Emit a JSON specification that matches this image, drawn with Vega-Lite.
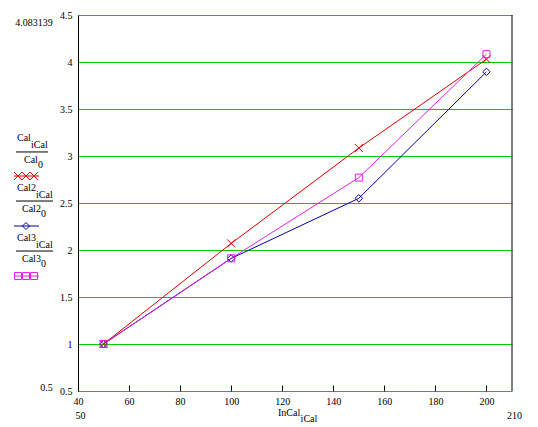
{
  "$schema": "https://vega.github.io/schema/vega-lite/v6.json",
  "width": 434,
  "height": 376,
  "autosize": {"type": "none"},
  "padding": {"left": 78, "top": 15, "right": 26, "bottom": 36},
  "background": "white",
  "datasets": {
    "cal": [
      {"series": "Cal", "InCal": 50, "ratio": 1},
      {"series": "Cal", "InCal": 100, "ratio": 2.07},
      {"series": "Cal", "InCal": 150, "ratio": 3.085},
      {"series": "Cal", "InCal": 200, "ratio": 4.03},
      {"series": "Cal2", "InCal": 50, "ratio": 1},
      {"series": "Cal2", "InCal": 100, "ratio": 1.91},
      {"series": "Cal2", "InCal": 150, "ratio": 2.55},
      {"series": "Cal2", "InCal": 200, "ratio": 3.895},
      {"series": "Cal3", "InCal": 50, "ratio": 1},
      {"series": "Cal3", "InCal": 100, "ratio": 1.912},
      {"series": "Cal3", "InCal": 150, "ratio": 2.77},
      {"series": "Cal3", "InCal": 200, "ratio": 4.083139}
    ],
    "blank": [{}]
  },
  "config": {
    "view": {"stroke": null},
    "font": "Liberation Serif",
    "axis": {"labelFont": "Liberation Serif", "labelFontSize": 10, "labelColor": "black", "labelFlush": false, "labelOverlap": false, "labelBound": false},
    "axisX": {"domain": false, "grid": false, "ticks": true, "tickColor": "black", "tickSize": -6, "tickWidth": 1, "labelPadding": 11},
    "axisY": {"domain": true, "domainColor": "black", "domainWidth": 1, "grid": true, "gridColor": "#00cc00", "gridWidth": 1, "gridOpacity": 1, "ticks": false, "labelPadding": 6},
    "text": {"font": "Liberation Serif", "fontSize": 10, "color": "black", "baseline": "middle", "align": "left"},
    "rule": {"color": "black", "strokeWidth": 1},
    "point": {"filled": false, "strokeWidth": 1, "opacity": 1}
  },
  "layer": [
    {
      "data": {"name": "cal"},
      "mark": {"type": "line", "strokeWidth": 1},
      "encoding": {
        "x": {"field": "InCal", "type": "quantitative", "scale": {"domain": [40, 210], "nice": false, "zero": false}, "axis": {"values": [40, 60, 80, 100, 120, 140, 160, 180, 200], "title": null}},
        "y": {"field": "ratio", "type": "quantitative", "scale": {"domain": [0.5, 4.5], "nice": false, "zero": false}, "axis": {"values": [0.5, 1, 1.5, 2, 2.5, 3, 3.5, 4, 4.5], "format": "~g", "title": null}},
        "color": {"field": "series", "type": "nominal", "scale": {"domain": ["Cal", "Cal2", "Cal3"], "range": ["#e00000", "#0000a0", "#e020e0"]}, "legend": null},
        "order": {"field": "InCal"}
      }
    },
    {
      "data": {"name": "cal"},
      "mark": {"type": "point"},
      "encoding": {
        "x": {"field": "InCal", "type": "quantitative"},
        "y": {"field": "ratio", "type": "quantitative"},
        "color": {"field": "series", "type": "nominal", "legend": null},
        "shape": {"field": "series", "type": "nominal", "scale": {"domain": ["Cal", "Cal2", "Cal3"], "range": ["M-1,-1L1,1M-1,1L1,-1", "M0,-1L1,0L0,1L-1,0Z", "M-1,-1L1,-1L1,1L-1,1Z"]}, "legend": null},
        "size": {"field": "series", "type": "nominal", "scale": {"domain": ["Cal", "Cal2", "Cal3"], "range": [64, 49, 64]}, "legend": null}
      }
    },
    {"data": {"name": "blank"}, "mark": {"type": "rule"}, "encoding": {"x": {"datum": 210}}},

    {"data": {"name": "blank"}, "mark": {"type": "rule", "color": "#e00000"}, "encoding": {"x": {"datum": 14.93}, "x2": {"datum": 24.72}, "y": {"datum": 2.787}}},
    {"data": {"name": "blank"}, "mark": {"type": "point", "color": "#e00000", "shape": "M-1,-1L1,1M-1,1L1,-1", "size": 64}, "encoding": {"x": {"datum": 16.5}, "y": {"datum": 2.787}}},
    {"data": {"name": "blank"}, "mark": {"type": "point", "color": "#e00000", "shape": "M-1,-1L1,1M-1,1L1,-1", "size": 64}, "encoding": {"x": {"datum": 19.63}, "y": {"datum": 2.787}}},
    {"data": {"name": "blank"}, "mark": {"type": "point", "color": "#e00000", "shape": "M-1,-1L1,1M-1,1L1,-1", "size": 64}, "encoding": {"x": {"datum": 22.76}, "y": {"datum": 2.787}}},

    {"data": {"name": "blank"}, "mark": {"type": "rule", "color": "#0000a0"}, "encoding": {"x": {"datum": 14.93}, "x2": {"datum": 24.72}, "y": {"datum": 2.255}}},
    {"data": {"name": "blank"}, "mark": {"type": "point", "color": "#0000a0", "shape": "M0,-1L1,0L0,1L-1,0Z", "size": 49}, "encoding": {"x": {"datum": 19.63}, "y": {"datum": 2.255}}},

    {"data": {"name": "blank"}, "mark": {"type": "rule", "color": "#e020e0"}, "encoding": {"x": {"datum": 14.93}, "x2": {"datum": 24.72}, "y": {"datum": 1.723}}},
    {"data": {"name": "blank"}, "mark": {"type": "point", "color": "#e020e0", "shape": "M-1,-1L1,-1L1,1L-1,1Z", "size": 49}, "encoding": {"x": {"datum": 16.5}, "y": {"datum": 1.723}}},
    {"data": {"name": "blank"}, "mark": {"type": "point", "color": "#e020e0", "shape": "M-1,-1L1,-1L1,1L-1,1Z", "size": 49}, "encoding": {"x": {"datum": 19.63}, "y": {"datum": 1.723}}},
    {"data": {"name": "blank"}, "mark": {"type": "point", "color": "#e020e0", "shape": "M-1,-1L1,-1L1,1L-1,1Z", "size": 49}, "encoding": {"x": {"datum": 22.76}, "y": {"datum": 1.723}}},

    {"data": {"name": "blank"}, "mark": {"type": "text"}, "encoding": {"x": {"datum": 16.11}, "y": {"datum": 3.191}, "text": {"value": "Cal"}}},
    {"data": {"name": "blank"}, "mark": {"type": "text"}, "encoding": {"x": {"datum": 21.59}, "y": {"datum": 3.117}, "text": {"value": "iCal"}}},
    {"data": {"name": "blank"}, "mark": {"type": "rule"}, "encoding": {"x": {"datum": 15.71}, "x2": {"datum": 28.25}, "y": {"datum": 3.043}}},
    {"data": {"name": "blank"}, "mark": {"type": "text"}, "encoding": {"x": {"datum": 18.85}, "y": {"datum": 2.957}, "text": {"value": "Cal"}}},
    {"data": {"name": "blank"}, "mark": {"type": "text"}, "encoding": {"x": {"datum": 24.33}, "y": {"datum": 2.904}, "text": {"value": "0"}}},

    {"data": {"name": "blank"}, "mark": {"type": "text"}, "encoding": {"x": {"datum": 16.11}, "y": {"datum": 2.66}, "text": {"value": "Cal2"}}},
    {"data": {"name": "blank"}, "mark": {"type": "text"}, "encoding": {"x": {"datum": 23.55}, "y": {"datum": 2.585}, "text": {"value": "iCal"}}},
    {"data": {"name": "blank"}, "mark": {"type": "rule"}, "encoding": {"x": {"datum": 15.71}, "x2": {"datum": 30.21}, "y": {"datum": 2.521}}},
    {"data": {"name": "blank"}, "mark": {"type": "text"}, "encoding": {"x": {"datum": 18.06}, "y": {"datum": 2.436}, "text": {"value": "Cal2"}}},
    {"data": {"name": "blank"}, "mark": {"type": "text"}, "encoding": {"x": {"datum": 25.51}, "y": {"datum": 2.383}, "text": {"value": "0"}}},

    {"data": {"name": "blank"}, "mark": {"type": "text"}, "encoding": {"x": {"datum": 16.11}, "y": {"datum": 2.128}, "text": {"value": "Cal3"}}},
    {"data": {"name": "blank"}, "mark": {"type": "text"}, "encoding": {"x": {"datum": 23.55}, "y": {"datum": 2.053}, "text": {"value": "iCal"}}},
    {"data": {"name": "blank"}, "mark": {"type": "rule"}, "encoding": {"x": {"datum": 15.71}, "x2": {"datum": 30.21}, "y": {"datum": 1.989}}},
    {"data": {"name": "blank"}, "mark": {"type": "text"}, "encoding": {"x": {"datum": 18.06}, "y": {"datum": 1.904}, "text": {"value": "Cal3"}}},
    {"data": {"name": "blank"}, "mark": {"type": "text"}, "encoding": {"x": {"datum": 25.51}, "y": {"datum": 1.851}, "text": {"value": "0"}}},

    {"data": {"name": "blank"}, "mark": {"type": "text", "align": "center"}, "encoding": {"x": {"datum": 22.76}, "y": {"datum": 4.415}, "text": {"value": "4.083139"}}},
    {"data": {"name": "blank"}, "mark": {"type": "text", "align": "center"}, "encoding": {"x": {"datum": 27.66}, "y": {"datum": 0.532}, "text": {"value": "0.5"}}},
    {"data": {"name": "blank"}, "mark": {"type": "text", "align": "center"}, "encoding": {"x": {"datum": 40.98}, "y": {"datum": 0.234}, "text": {"value": "50"}}},
    {"data": {"name": "blank"}, "mark": {"type": "text", "align": "center"}, "encoding": {"x": {"datum": 210.98}, "y": {"datum": 0.234}, "text": {"value": "210"}}},
    {"data": {"name": "blank"}, "mark": {"type": "text"}, "encoding": {"x": {"datum": 118.34}, "y": {"datum": 0.266}, "text": {"value": "InCal"}}},
    {"data": {"name": "blank"}, "mark": {"type": "text"}, "encoding": {"x": {"datum": 127.2}, "y": {"datum": 0.202}, "text": {"value": "iCal"}}}
  ]
}
